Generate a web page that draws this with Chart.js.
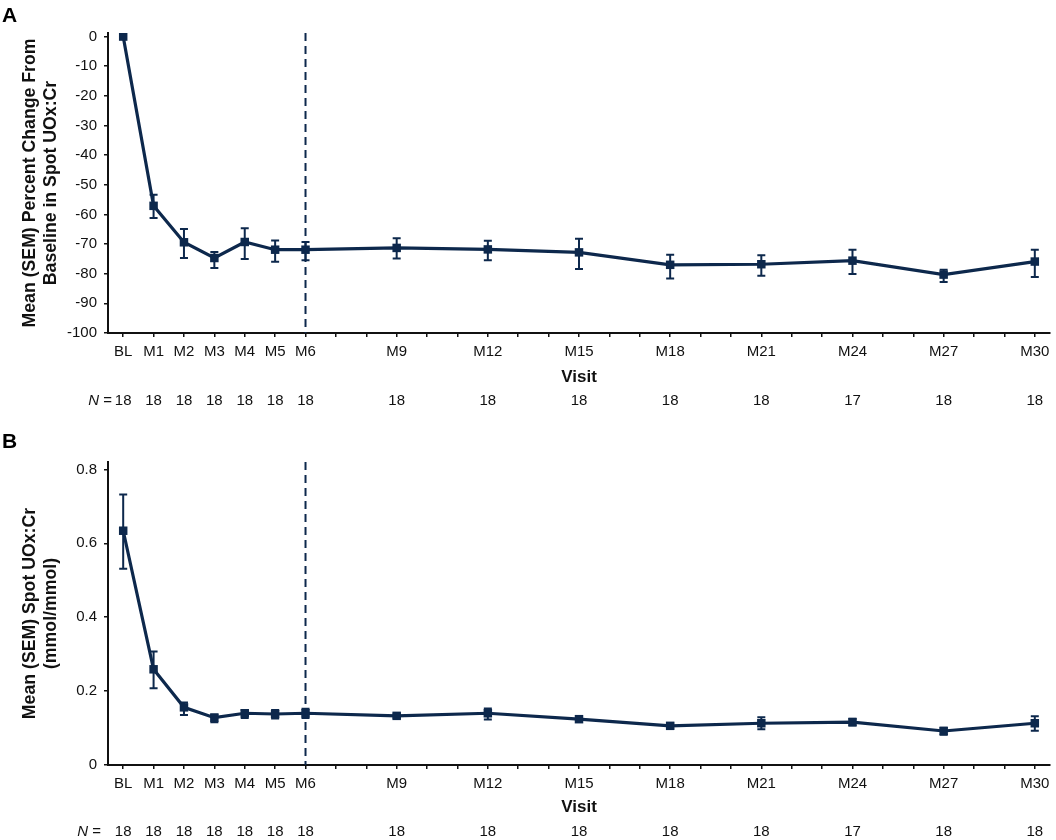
<!DOCTYPE html>
<html lang="en">
<head>
<meta charset="utf-8">
<title>Spot UOx:Cr by visit</title>
<script src="https://cdn.jsdelivr.net/npm/chart.js@4.4.1/dist/chart.umd.min.js"></script>
<style>
  html, body { margin: 0; padding: 0; background: #fff; }
  #page { position: relative; width: 1056px; height: 840px; font-family: 'Liberation Sans', Arial, sans-serif; }
  .panel { position: absolute; left: 0; width: 1056px; height: 420px; }
  #panel-a { top: 0; }
  #panel-b { top: 420px; }
  .panel-letter { position: absolute; left: 2px; font-size: 21px; line-height: 1; font-weight: bold; color: #000; }
</style>
</head>
<body>
<div id="page">
  <div class="panel" id="panel-a">
    <canvas id="chart-a" width="1056" height="420"></canvas>
    <div class="panel-letter" style="top: 4px;">A</div>
  </div>
  <div class="panel" id="panel-b">
    <canvas id="chart-b" width="1056" height="420"></canvas>
    <div class="panel-letter" style="top: 10px;">B</div>
  </div>
</div>

<script>
// --- Data ---
const visitMonths = [0, 1, 2, 3, 4, 5, 6, 9, 12, 15, 18, 21, 24, 27, 30];
const visitLabels = ['BL', 'M1', 'M2', 'M3', 'M4', 'M5', 'M6', 'M9', 'M12', 'M15', 'M18', 'M21', 'M24', 'M27', 'M30'];
const patientsN = [18, 18, 18, 18, 18, 18, 18, 18, 18, 18, 18, 18, 17, 18, 18];

// Panel A: mean % change from baseline, with SEM bar ends
const pctChangeMean  = [0, -57.1, -69.4, -74.7, -69.3, -71.9, -71.9, -71.3, -71.8, -72.8, -77.0, -76.8, -75.6, -80.3, -75.9];
const pctChangeUpper = [0, -53.4, -64.9, -72.7, -64.7, -68.8, -69.3, -68.0, -68.9, -68.2, -73.6, -73.8, -71.9, -78.7, -71.9];
const pctChangeLower = [0, -61.2, -74.7, -78.1, -75.0, -76.0, -75.5, -74.9, -75.5, -78.4, -81.6, -80.7, -80.1, -82.8, -81.1];
const pctTicks = [-100, -90, -80, -70, -60, -50, -40, -30, -20, -10, 0];

// Panel B: mean spot UOx:Cr (mmol/mmol), with SEM bar ends
const uoxCrMean  = [0.634, 0.259, 0.156, 0.128, 0.140, 0.138, 0.140, 0.133, 0.140, 0.124, 0.106, 0.113, 0.116, 0.092, 0.113];
const uoxCrUpper = [0.732, 0.307, 0.169, 0.137, 0.149, 0.149, 0.152, 0.139, 0.153, 0.131, 0.113, 0.129, 0.125, 0.101, 0.132];
const uoxCrLower = [0.531, 0.208, 0.135, 0.116, 0.127, 0.126, 0.127, 0.127, 0.123, 0.117, 0.099, 0.097, 0.107, 0.082, 0.093];
const uoxTicks = [0, 0.2, 0.4, 0.6, 0.8];

// one tick mark per month on the visit axis
const monthTicks = Array.from({ length: 31 }, (_, m) => m);

// --- Styles ---
const NAVY = '#0d284c';
const INK = '#111111';
const FONT = "'Liberation Sans', Arial, sans-serif";
const tickFont = { family: FONT, size: 15, lineHeight: 1.2 };
const titleFont = { family: FONT, size: 17, weight: 'bold', lineHeight: 20 / 17 };
const yTitleFont = { family: FONT, size: 17.7, weight: 'bold', lineHeight: 20.5 / 17.7 };

// --- Plugins ---

// SEM whiskers with caps, drawn under the markers
const errorBarsPlugin = {
  id: 'errorBars',
  beforeDatasetsDraw(chart) {
    const { ctx, scales: { x, y } } = chart;
    const ds = chart.data.datasets[0];
    ctx.save();
    ctx.strokeStyle = NAVY;
    ctx.lineWidth = 2;
    ds.errorUpper.forEach((hi, i) => {
      const px = x.getPixelForValue(visitMonths[i]);
      const top = y.getPixelForValue(hi);
      const bottom = y.getPixelForValue(ds.errorLower[i]);
      if (Math.abs(bottom - top) < 1) return;
      ctx.beginPath();
      ctx.moveTo(px, top); ctx.lineTo(px, bottom);
      ctx.moveTo(px - 4, top); ctx.lineTo(px + 4, top);
      ctx.moveTo(px - 4, bottom); ctx.lineTo(px + 4, bottom);
      ctx.stroke();
    });
    ctx.restore();
  }
};

// dashed reference line at M6
const dashedLinePlugin = {
  id: 'dashedLine',
  beforeDatasetsDraw(chart, args, opts) {
    const { ctx, chartArea, scales: { x } } = chart;
    const px = x.getPixelForValue(opts.at);
    ctx.save();
    ctx.strokeStyle = NAVY;
    ctx.lineWidth = 2;
    ctx.setLineDash([8, 5]);
    ctx.beginPath();
    ctx.moveTo(px, chartArea.top);
    ctx.lineTo(px, chartArea.bottom);
    ctx.stroke();
    ctx.restore();
  }
};

// "N =" caption in front of the patient count row
const nCaptionPlugin = {
  id: 'nCaption',
  afterDraw(chart, args, opts) {
    const { ctx } = chart;
    const nScale = chart.scales.xN;
    const y = nScale.top + nScale.options.ticks.padding + 9;
    ctx.save();
    ctx.fillStyle = INK;
    ctx.textBaseline = 'middle';
    ctx.textAlign = 'right';
    ctx.font = `15px ${FONT}`;
    const eq = ' =';
    ctx.fillText(eq, opts.right, y);
    const eqWidth = ctx.measureText(eq).width;
    ctx.font = `italic 15px ${FONT}`;
    ctx.fillText('N', opts.right - eqWidth, y);
    ctx.restore();
  }
};

// --- Chart builder ---

function buildPanel(canvasId, cfg) {
  const ctx = document.getElementById(canvasId).getContext('2d');
  return new Chart(ctx, {
    type: 'line',
    data: {
      datasets: [{
        data: visitMonths.map((m, i) => ({ x: m, y: cfg.mean[i] })),
        errorUpper: cfg.upper,
        errorLower: cfg.lower,
        borderColor: NAVY,
        borderWidth: 3.2,
        tension: 0,
        pointStyle: 'rect',
        pointRadius: 6,
        pointBackgroundColor: NAVY,
        pointBorderWidth: 0,
        xAxisID: 'x',
        yAxisID: 'y'
      }]
    },
    options: {
      responsive: false,
      animation: false,
      layout: { padding: { top: cfg.padTop, right: 2, bottom: cfg.padBottom, left: 0 } },
      plugins: {
        legend: { display: false },
        tooltip: { enabled: false },
        dashedLine: { at: 6 },
        nCaption: { right: cfg.nCaptionRight }
      },
      scales: {
        x: {
          type: 'linear',
          position: 'bottom',
          weight: 0,
          min: -0.5,
          max: 30.5,
          afterBuildTicks: s => { s.ticks = monthTicks.map(v => ({ value: v })); },
          afterFit: s => { s.height = cfg.xHeight; },
          border: { color: INK, width: 2 },
          grid: { drawOnChartArea: false, drawTicks: true, tickLength: 4, color: INK, lineWidth: 1.5 },
          ticks: {
            autoSkip: false,
            maxRotation: 0,
            padding: 6,
            color: INK,
            font: tickFont,
            callback: v => {
              const i = visitMonths.indexOf(v);
              return i >= 0 ? visitLabels[i] : '';
            }
          },
          title: { display: true, text: 'Visit', color: INK, font: titleFont, padding: 0 }
        },
        xN: {
          type: 'linear',
          position: 'bottom',
          weight: 1,
          min: -0.5,
          max: 30.5,
          afterBuildTicks: s => { s.ticks = visitMonths.map(v => ({ value: v })); },
          afterFit: s => { s.height = cfg.nHeight; },
          border: { display: false },
          grid: { display: false, drawTicks: false },
          ticks: {
            autoSkip: false,
            maxRotation: 0,
            padding: cfg.nPadding,
            color: INK,
            font: tickFont,
            callback: v => patientsN[visitMonths.indexOf(v)]
          }
        },
        y: {
          min: cfg.yMin,
          max: cfg.yMax,
          afterBuildTicks: s => { s.ticks = cfg.yTicks.map(v => ({ value: v })); },
          afterFit: s => { s.width = 108; },
          border: { color: INK, width: 2 },
          grid: { drawOnChartArea: false, drawTicks: true, tickLength: 4, color: INK, lineWidth: 1.5 },
          ticks: { padding: 7, color: INK, font: tickFont, callback: cfg.yFormat },
          title: { display: true, text: cfg.yTitle, color: INK, font: yTitleFont, padding: 20 }
        }
      }
    },
    plugins: [errorBarsPlugin, dashedLinePlugin, nCaptionPlugin]
  });
}

// --- Init ---

buildPanel('chart-a', {
  mean: pctChangeMean,
  upper: pctChangeUpper,
  lower: pctChangeLower,
  yMin: -100,
  yMax: 1.2,
  yTicks: pctTicks,
  yFormat: v => String(v),
  yTitle: ['Mean (SEM) Percent Change From', 'Baseline in Spot UOx:Cr'],
  padTop: 33,
  padBottom: 3,
  xHeight: 54,
  nHeight: 30,
  nPadding: 5,
  nCaptionRight: 112
});

buildPanel('chart-b', {
  mean: uoxCrMean,
  upper: uoxCrUpper,
  lower: uoxCrLower,
  yMin: 0,
  yMax: 0.82,
  yTicks: uoxTicks,
  yFormat: v => (v === 0 ? '0' : v.toFixed(1)),
  yTitle: ['Mean (SEM) Spot UOx:Cr', '(mmol/mmol)'],
  padTop: 42,
  padBottom: 3,
  xHeight: 52,
  nHeight: 20,
  nPadding: 6,
  nCaptionRight: 101
});
</script>
</body>
</html>
